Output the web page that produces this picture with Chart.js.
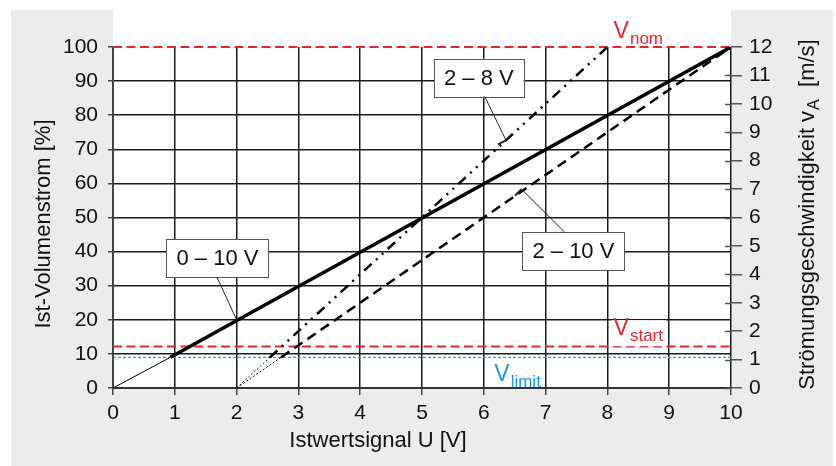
<!DOCTYPE html>
<html><head><meta charset="utf-8">
<script src="https://cdn.jsdelivr.net/npm/chart.js@4"></script>
<style>html,body{margin:0;padding:0;background:#fff}canvas{display:block}</style>
</head><body>
<canvas id="c" width="836" height="466" style="width:836px;height:466px"></canvas>
<script>
// ---- data ----
const xTicks = [0,1,2,3,4,5,6,7,8,9,10];            // Istwertsignal U [V]
const yTicks = [0,10,20,30,40,50,60,70,80,90,100];   // Ist-Volumenstrom [%]
const y2Ticks = [0,1,2,3,4,5,6,7,8,9,10,11,12];      // v_A [m/s]
// each characteristic: signal [V] and flow [%]; 2nd point = crossing of V_limit
const sig_0_10 = [0, 0.93, 10];
const flow_0_10 = [0, 9, 100];
const sig_2_10 = [2, 2.72, 10];
const flow_2_10 = [0, 9, 100];
const sig_2_8 = [2, 2.54, 8];
const flow_2_8 = [0, 9, 100];
const V_NOM = 100, V_START = 12.2, V_LIMIT = 9;      // [%]
const labels = ["0 – 10 V", "2 – 8 V", "2 – 10 V"];

const FONT = "'Liberation Sans', Arial, sans-serif";
const pts = (xs, ys) => xs.map((x, i) => ({x, y: ys[i]}));

const bgPlugin = {
  id: 'bg',
  beforeDraw(chart) {
    const c = chart.ctx, a = chart.chartArea;
    c.save();
    c.fillStyle = '#ececec';
    c.fillRect(11, 10, 822, 456);
    c.fillStyle = '#ffffff';
    c.fillRect(a.left, 10, a.right - a.left, a.bottom - 10);
    c.restore();
  }
};

function hline(c, x0, x1, y, color, w, dash) {
  c.save(); c.strokeStyle = color; c.lineWidth = w; c.setLineDash(dash);
  c.beginPath(); c.moveTo(x0, y); c.lineTo(x1, y); c.stroke(); c.restore();
}
function subText(c, main, sub, x, yBase, color, fMain, fSub, bg) {
  c.save();
  c.font = fMain + 'px ' + FONT;
  const w1 = c.measureText(main).width;
  c.font = fSub + 'px ' + FONT;
  const w2 = c.measureText(sub).width;
  if (bg) { c.fillStyle = '#fff'; c.fillRect(x - 2, yBase - fMain*0.8, w1 + w2 + 6, fMain*0.8 + fSub*0.45); }
  c.fillStyle = color; c.textBaseline = 'alphabetic'; c.textAlign = 'left';
  c.font = fMain + 'px ' + FONT; c.fillText(main, x, yBase - 4);
  c.font = fSub + 'px ' + FONT; c.fillText(sub, x + w1 + 1, yBase + 2);
  c.restore();
}
function box(c, text, cx, cy) {
  c.save();
  c.font = '22px ' + FONT;
  const w = c.measureText(text).width + 20, h = 38;
  c.fillStyle = '#fff'; c.fillRect(cx - w/2, cy - h/2, w, h);
  c.strokeStyle = '#555'; c.lineWidth = 1; c.strokeRect(Math.round(cx - w/2) + 0.5, Math.round(cy - h/2) + 0.5, Math.round(w), h);
  c.fillStyle = '#111'; c.textAlign = 'center'; c.textBaseline = 'middle';
  c.fillText(text, cx, cy + 1);
  c.restore();
}
function callout(c, x0, y0, x1, y1, tick) {
  c.save(); c.strokeStyle = '#222'; c.lineWidth = 1;
  c.beginPath(); c.moveTo(x0, y0); c.lineTo(x1, y1); c.stroke();
  if (tick) {
    const dx = x1 - x0, dy = y1 - y0, L = Math.hypot(dx, dy);
    const px = -dy / L, py = dx / L;
    c.lineWidth = 2;
    c.beginPath(); c.moveTo(x1, y1); c.lineTo(x1 + px * tick, y1 + py * tick); c.stroke();
  }
  c.restore();
}

const annoPlugin = {
  id: 'anno',
  beforeDatasetsDraw(chart) {
    const c = chart.ctx, a = chart.chartArea, y = chart.scales.y;
    hline(c, a.left, a.right, y.getPixelForValue(V_LIMIT), '#2a9ce0', 1.2, [3, 2]);
    hline(c, a.left, a.right, y.getPixelForValue(V_START), '#e8242c', 2, [9, 4.5]);
    hline(c, a.left, a.right, y.getPixelForValue(V_NOM), '#e8242c', 2, [9, 4.5]);
    // right-axis inner tick marks
    const y2 = chart.scales.y2;
    c.save(); c.strokeStyle = '#555'; c.lineWidth = 1.5;
    y2Ticks.forEach(v => { const py = Math.round(y2.getPixelForValue(v)) + 0.5;
      c.beginPath(); c.moveTo(a.right - 6, py); c.lineTo(a.right, py); c.stroke(); });
    c.restore();
    // V texts
    const xs = chart.scales.x;
    subText(c, 'V', 'start', xs.getPixelForValue(8.1), y.getPixelForValue(14.5), '#e8242c', 23, 17, true);
    subText(c, 'V', 'limit', xs.getPixelForValue(6.17), y.getPixelForValue(0.9), '#1a9be0', 23, 17, false);
    subText(c, 'V', 'nom', xs.getPixelForValue(8.1), y.getPixelForValue(101.5), '#e8242c', 23, 17, false);
  },
  afterDatasetsDraw(chart) {
    const c = chart.ctx, x = chart.scales.x, y = chart.scales.y;
    const P = (vx, vy) => [x.getPixelForValue(vx), y.getPixelForValue(vy)];
    // 0-10 V
    let b = P(1.69, 38.1), t = P(2, 20);
    box(c, labels[0], b[0], b[1]);
    callout(c, b[0] - 0.5, b[1] + 19, t[0], t[1], 0);
    // 2-8 V
    b = P(5.92, 91); t = P(6.36, 72.6);
    box(c, labels[1], b[0], b[1]);
    callout(c, b[0] + 6, b[1] + 19, t[0], t[1], 9);
    // 2-10 V
    b = P(7.45, 40.2); t = P(6.61, 58.3);
    box(c, labels[2], b[0], b[1]);
    callout(c, b[0] - 9, b[1] - 19, t[0], t[1], -9);
    // axis titles
    c.save();
    c.fillStyle = '#111'; c.textAlign = 'center'; c.textBaseline = 'middle';
    c.font = '22px ' + FONT;
    c.fillText('Istwertsignal U [V]', 378, 441);
    c.save(); c.translate(44, 224); c.rotate(-Math.PI / 2);
    c.fillText('Ist-Volumenstrom [%]', 0, 0); c.restore();
    // right title with subscript
    c.save(); c.translate(807, 215); c.rotate(-Math.PI / 2);
    const p1 = 'Strömungsgeschwindigkeit v', p2 = 'A', p3 = '  [m/s]';
    c.font = '22px ' + FONT; const w1 = c.measureText(p1).width, w3 = c.measureText(p3).width;
    c.font = '16px ' + FONT; const w2 = c.measureText(p2).width;
    let sx = -(w1 + w2 + w3) / 2;
    c.textAlign = 'left'; c.textBaseline = 'alphabetic';
    c.font = '22px ' + FONT; c.fillText(p1, sx, 7);
    c.font = '16px ' + FONT; c.fillText(p2, sx + w1 + 1, 12);
    c.font = '22px ' + FONT; c.fillText(p3, sx + w1 + w2 + 1, 7);
    c.restore();
    c.restore();
  }
};

const thinOrThick = (thin, thick) => ctx => ctx.p0DataIndex === 0 ? thin : thick;

new Chart(document.getElementById('c'), {
  type: 'scatter',
  data: {
    datasets: [
      { label: labels[0], data: pts(sig_0_10, flow_0_10), showLine: true, borderColor: '#000', pointRadius: 0,
        borderWidth: 3.5, segment: { borderWidth: thinOrThick(1, 3.5), borderDash: thinOrThick([], []) } },
      { label: labels[2], data: pts(sig_2_10, flow_2_10), showLine: true, borderColor: '#000', pointRadius: 0,
        borderWidth: 2.5, segment: { borderWidth: thinOrThick(1, 2.5), borderDash: thinOrThick([2, 2], [10, 6]) } },
      { label: labels[1], data: pts(sig_2_8, flow_2_8), showLine: true, borderColor: '#000', pointRadius: 0,
        borderWidth: 2.5, segment: { borderWidth: thinOrThick(1, 2.5), borderDash: thinOrThick([1.5, 2.5], [10, 6, 2, 6, 2, 6]) } }
    ]
  },
  options: {
    responsive: false, animation: false, devicePixelRatio: 1,
    layout: { padding: { top: 47, left: 0, right: 0, bottom: 0 } },
    plugins: { legend: { display: false }, tooltip: { enabled: false } },
    scales: {
      x: {
        type: 'linear', min: 0, max: 10,
        afterFit: s => { s.height = 78; },
        afterBuildTicks: s => { s.ticks = xTicks.map(v => ({value: v})); },
        ticks: { color: '#111', font: { size: 21, family: FONT }, padding: 6, maxRotation: 0 },
        grid: { color: '#1a1a1a', lineWidth: 1.5, tickLength: 7, tickColor: '#444' },
        border: { color: '#333', width: 2 }
      },
      y: {
        type: 'linear', position: 'left', min: 0, max: 100,
        afterFit: s => { s.width = 113; },
        afterBuildTicks: s => { s.ticks = yTicks.map(v => ({value: v})); },
        ticks: { color: '#111', font: { size: 21, family: FONT }, padding: 10 },
        grid: { color: ctx => (ctx.tick && ctx.tick.value === 100) ? 'rgba(0,0,0,0)' : '#1a1a1a',
                lineWidth: 1.5, tickLength: 5, tickColor: '#444' },
        border: { color: '#444', width: 2 }
      },
      y2: {
        type: 'linear', position: 'right', min: 0, max: 12,
        afterFit: s => { s.width = 105; },
        afterBuildTicks: s => { s.ticks = y2Ticks.map(v => ({value: v})); },
        ticks: { color: '#111', font: { size: 21, family: FONT }, padding: 7 },
        grid: { drawOnChartArea: false, tickLength: 11, tickColor: '#555', lineWidth: 1.5 },
        border: { display: false }
      }
    }
  },
  plugins: [bgPlugin, annoPlugin]
});
</script>
</body></html>
